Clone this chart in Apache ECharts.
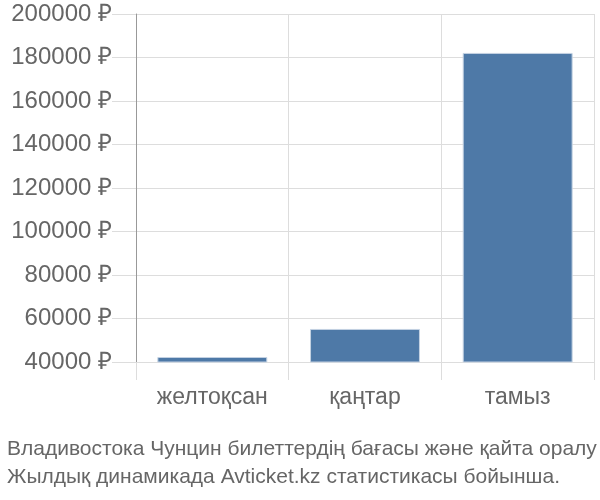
<!DOCTYPE html>
<html><head><meta charset="utf-8">
<script src="https://cdn.jsdelivr.net/npm/echarts@6/dist/echarts.min.js"></script>
<style>html,body{margin:0;padding:0;background:#fff}#c{width:600px;height:500px}</style>
</head><body><div id="c"></div>
<script>
const categories = ['желтоқсан', 'қаңтар', 'тамыз'];
const prices = [42300, 55200, 182100];
const yTicks = { min: 40000, max: 200000, interval: 20000 };
const titleLines = ['Владивостока Чунцин билеттердің бағасы және қайта оралу', 'Жылдық динамикада Avticket.kz статистикасы бойынша.'];

const chart = echarts.init(document.getElementById('c'));
const font = 'Liberation Sans';
chart.setOption({
  animation: false,
  textStyle: { fontFamily: font },
  title: {
    text: titleLines.join('\n'),
    left: 2, top: 430,
    textStyle: { fontFamily: font, fontSize: 21, fontWeight: 'normal', color: '#666', lineHeight: 28 }
  },
  grid: { left: 136, right: 6, top: 14, bottom: 138 },
  xAxis: {
    type: 'category', data: categories, boundaryGap: true,
    axisLine: { show: false },
    axisTick: { show: true, length: 18, lineStyle: { color: '#ddd' } },
    splitLine: { show: true, lineStyle: { color: '#ddd' } },
    axisLabel: { fontSize: 23, color: '#666', margin: 24, fontFamily: font }
  },
  yAxis: {
    type: 'value', min: yTicks.min, max: yTicks.max, interval: yTicks.interval,
    axisLine: { show: true, lineStyle: { color: '#999' } },
    axisTick: { show: true, length: 24, lineStyle: { color: '#ddd' } },
    splitLine: { show: true, lineStyle: { color: '#ddd' } },
    axisLabel: { fontSize: 24, color: '#666', margin: 24, fontFamily: font, formatter: v => v + ' ₽' }
  },
  series: [{
    type: 'bar', data: prices, barWidth: '72%',
    itemStyle: { color: '#4e79a7', borderColor: '#c5d3e3', borderWidth: 1 }
  }]
});
</script></body></html>
